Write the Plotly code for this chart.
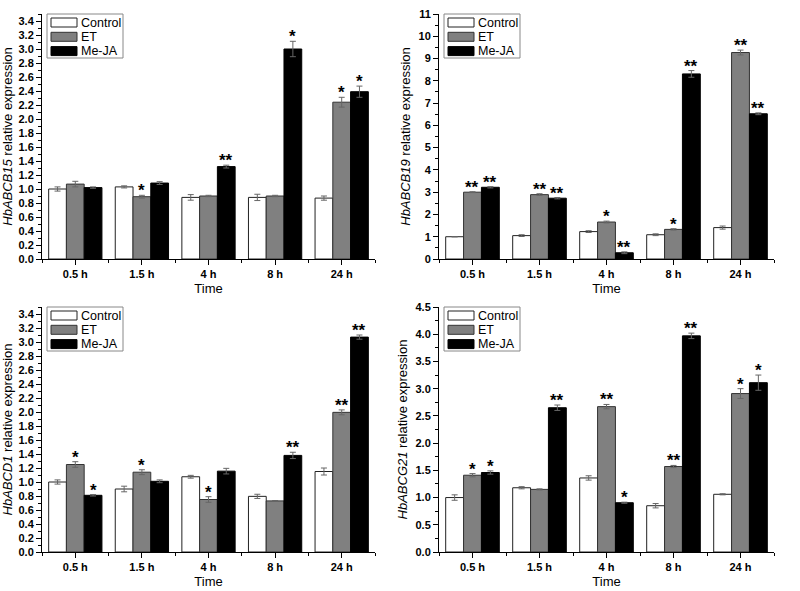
import plotly.graph_objects as go

categories = ["0.5 h", "1.5 h", "4 h", "8 h", "24 h"]
series_names = ["Control", "ET", "Me-JA"]

# HbABCB15
b15_control = [1.00, 1.03, 0.88, 0.88, 0.87]
b15_et = [1.07, 0.89, 0.90, 0.90, 2.24]
b15_meja = [1.02, 1.085, 1.32, 3.00, 2.39]
b15_control_err = [0.03, 0.015, 0.04, 0.045, 0.03]
b15_et_err = [0.04, 0.02, 0.01, 0.01, 0.07]
b15_meja_err = [0.01, 0.02, 0.02, 0.11, 0.08]
b15_et_sig = ["", "*", "", "", "*"]
b15_meja_sig = ["", "", "**", "*", "*"]

# HbABCB19
b19_control = [1.00, 1.05, 1.23, 1.09, 1.41]
b19_et = [3.00, 2.89, 1.66, 1.33, 9.27]
b19_meja = [3.22, 2.73, 0.28, 8.31, 6.52]
b19_control_err = [0.0, 0.04, 0.04, 0.04, 0.07]
b19_et_err = [0.02, 0.04, 0.04, 0.03, 0.11]
b19_meja_err = [0.03, 0.03, 0.04, 0.15, 0.04]
b19_et_sig = ["**", "**", "*", "*", "**"]
b19_meja_sig = ["**", "**", "**", "**", "**"]

# HbABCD1
d1_control = [1.00, 0.90, 1.075, 0.795, 1.15]
d1_et = [1.25, 1.14, 0.75, 0.73, 1.995]
d1_meja = [0.81, 1.01, 1.155, 1.38, 3.07]
d1_control_err = [0.03, 0.04, 0.02, 0.03, 0.05]
d1_et_err = [0.04, 0.035, 0.04, 0.005, 0.035]
d1_meja_err = [0.01, 0.02, 0.04, 0.045, 0.03]
d1_et_sig = ["*", "*", "*", "", "**"]
d1_meja_sig = ["*", "", "", "**", "**"]

# HbABCG21
g21_control = [1.00, 1.18, 1.36, 0.85, 1.06]
g21_et = [1.41, 1.15, 2.67, 1.57, 2.91]
g21_meja = [1.46, 2.65, 0.905, 3.97, 3.11]
g21_control_err = [0.05, 0.02, 0.04, 0.04, 0.01]
g21_et_err = [0.03, 0.01, 0.04, 0.02, 0.09]
g21_meja_err = [0.03, 0.05, 0.01, 0.05, 0.14]
g21_et_sig = ["*", "", "**", "**", "*"]
g21_meja_sig = ["*", "**", "*", "**", "*"]

panels = [
    dict(gene="HbABCB15", vals=[b15_control, b15_et, b15_meja],
         errs=[b15_control_err, b15_et_err, b15_meja_err],
         sigs=[None, b15_et_sig, b15_meja_sig], yrange=[0, 3.5], dtick=0.2, minor=0.1),
    dict(gene="HbABCB19", vals=[b19_control, b19_et, b19_meja],
         errs=[b19_control_err, b19_et_err, b19_meja_err],
         sigs=[None, b19_et_sig, b19_meja_sig], yrange=[0, 11], dtick=1, minor=0.5),
    dict(gene="HbABCD1", vals=[d1_control, d1_et, d1_meja],
         errs=[d1_control_err, d1_et_err, d1_meja_err],
         sigs=[None, d1_et_sig, d1_meja_sig], yrange=[0, 3.5], dtick=0.2, minor=0.1),
    dict(gene="HbABCG21", vals=[g21_control, g21_et, g21_meja],
         errs=[g21_control_err, g21_et_err, g21_meja_err],
         sigs=[None, g21_et_sig, g21_meja_sig], yrange=[0, 4.5], dtick=0.5, minor=0.25),
]

fill_colors = ["#ffffff", "#808080", "#000000"]
line_colors = ["#222222", "#333333", "#000000"]

W, H = 800, 591
# panel boxes in pixels: (left, right, top, bottom)
boxes = [(42, 375, 14, 259), (439, 774, 14, 259), (42, 375, 307, 552), (439, 774, 307, 552)]

FONT = "Liberation Sans, Arial, sans-serif"
BARGAP = 0.2
xnum = list(range(len(categories)))

fig = go.Figure()
annotations = []
shapes = []
layout = {}
for p, panel in enumerate(panels):
    sfx = "" if p == 0 else str(p + 1)
    L, R, T, B = boxes[p]
    for k, name in enumerate(series_names):
        fig.add_trace(go.Bar(
            x=xnum, y=panel["vals"][k], name=name,
            xaxis="x" + sfx, yaxis="y" + sfx, showlegend=False,
            offsetgroup=str(k),
            marker=dict(color=fill_colors[k], line=dict(color=line_colors[k], width=1)),
            error_y=dict(type="data", array=panel["errs"][k], visible=True,
                         color="#666666", thickness=1, width=3),
        ))
        sig = panel["sigs"][k]
        if sig:
            w = (1 - BARGAP) / 3
            for i, s in enumerate(sig):
                if s:
                    annotations.append(dict(
                        x=i + (k - 1) * w, y=panel["vals"][k][i] + panel["errs"][k][i],
                        xref="x" + sfx, yref="y" + sfx, text=s, showarrow=False,
                        yanchor="bottom", yshift=-7,
                        font=dict(family=FONT, size=17, color="black", weight="bold")))
        # legend entry (drawn as decoration)
        rowc = T + 8.5 + 14.3 * k
        shapes.append(dict(type="rect", xref="paper", yref="paper",
                           x0=(L + 9) / W, x1=(L + 35) / W,
                           y0=1 - (rowc + 4.5) / H, y1=1 - (rowc - 4.5) / H,
                           fillcolor=fill_colors[k], line=dict(color=line_colors[k], width=1)))
        annotations.append(dict(x=(L + 37) / W, y=1 - rowc / H, xref="paper", yref="paper",
                                text=name, showarrow=False, xanchor="left", yanchor="middle",
                                font=dict(family=FONT, size=12.5, color="black")))
    shapes.append(dict(type="rect", xref="paper", yref="paper",
                       x0=(L + 5) / W, x1=(L + 81) / W, y0=1 - (T + 44) / H, y1=1 - T / H,
                       fillcolor="rgba(0,0,0,0)", line=dict(color="#888888", width=1)))
    layout["xaxis" + sfx] = dict(
        domain=[L / W, R / W], anchor="y" + sfx, range=[-0.5, 4.5], automargin=False,
        tickmode="array", tickvals=xnum, ticktext=categories,
        ticks="outside", ticklen=5, tickwidth=1, tickcolor="black",
        minor=dict(ticks="outside", ticklen=3, tick0=-0.5, dtick=1, tickcolor="black"),
        showline=True, linecolor="black", linewidth=1, showgrid=False, zeroline=False,
        tickfont=dict(family=FONT, size=11, color="black", weight="bold"),
        title=dict(text="Time", font=dict(family=FONT, size=13, color="black"), standoff=4),
    )
    layout["yaxis" + sfx] = dict(
        domain=[1 - B / H, 1 - T / H], anchor="x" + sfx, range=panel["yrange"],
        dtick=panel["dtick"], tick0=0, automargin=False,
        ticks="outside", ticklen=5, tickwidth=1, tickcolor="black",
        minor=dict(ticks="outside", ticklen=3, dtick=panel["minor"], tickcolor="black"),
        showline=True, linecolor="black", linewidth=1, showgrid=False, zeroline=False,
        tickformat=".1f" if panel["dtick"] < 1 else "d",
        tickfont=dict(family=FONT, size=11, color="black", weight="bold"),
        title=dict(text=f"<i>{panel['gene']}</i> relative expression",
                   font=dict(family=FONT, size=13, color="black"), standoff=4),
    )

fig.update_layout(
    **layout,
    barmode="group", bargap=BARGAP, bargroupgap=0,
    width=W, height=H, margin=dict(l=0, r=0, t=0, b=0),
    plot_bgcolor="white", paper_bgcolor="white",
    showlegend=False, annotations=annotations, shapes=shapes,
)
fig.write_html("out.html", config={"displayModeBar": False},
               post_script="document.body.style.margin='0';document.body.style.overflow='hidden';")
